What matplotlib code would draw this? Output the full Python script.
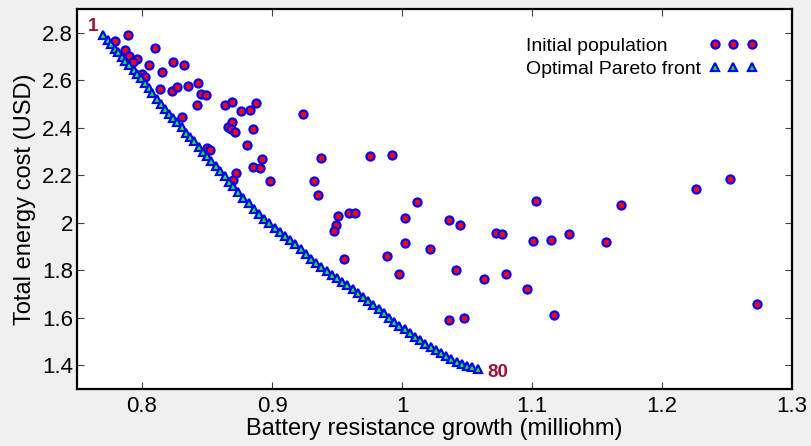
import matplotlib
matplotlib.use("Agg")
import matplotlib.pyplot as plt

plt.rcParams['font.family'] = ['Liberation Sans', 'DejaVu Sans']

# initial population (battery resistance growth, total energy cost)
pop_x = [0.789, 0.7795, 0.787, 0.810, 0.790, 0.796, 0.793, 0.805, 0.8235, 0.832,
         0.815, 0.800, 0.8025, 0.814, 0.823, 0.827, 0.835, 0.843, 0.845, 0.849,
         0.842, 0.8308, 0.8636, 0.869, 0.876, 0.8833, 0.8877, 0.866, 0.869, 0.8687,
         0.8718, 0.885, 0.8808, 0.8923, 0.885, 0.891, 0.850, 0.8525, 0.8725, 0.8697,
         0.8987, 0.9238, 0.9377, 0.9756, 0.9923, 0.932, 0.9354, 0.9508, 0.949, 0.9474,
         0.959, 0.9636, 1.0115, 1.002, 1.002, 0.9556, 0.9885, 0.9974, 1.0218, 1.0362,
         1.0448, 1.0415, 1.0362, 1.0474, 1.0633, 1.0725, 1.077, 1.0797, 1.0964, 1.1033,
         1.1008, 1.1148, 1.1166, 1.1282, 1.1566, 1.1685, 1.2262, 1.2525, 1.2733]
pop_y = [2.790, 2.765, 2.727, 2.734, 2.702, 2.691, 2.677, 2.663, 2.677, 2.664,
         2.636, 2.628, 2.614, 2.564, 2.555, 2.573, 2.576, 2.590, 2.543, 2.537,
         2.496, 2.445, 2.495, 2.508, 2.471, 2.475, 2.503, 2.405, 2.426, 2.394,
         2.383, 2.394, 2.328, 2.270, 2.236, 2.232, 2.314, 2.305, 2.211, 2.180,
         2.176, 2.457, 2.274, 2.281, 2.287, 2.175, 2.117, 2.030, 1.991, 1.966,
         2.041, 2.041, 2.089, 2.020, 1.914, 1.847, 1.861, 1.784, 1.889, 2.011,
         1.991, 1.802, 1.590, 1.597, 1.763, 1.956, 1.952, 1.784, 1.720, 2.092,
         1.924, 1.927, 1.612, 1.952, 1.921, 2.075, 2.141, 2.186, 1.656]

# optimal Pareto front, 80 solutions
front_x = [0.770, 0.7735, 0.776, 0.779, 0.7815, 0.7845, 0.787, 0.790, 0.7935, 0.796,
           0.799, 0.802, 0.805, 0.808, 0.8115, 0.8145, 0.818, 0.821, 0.824, 0.827,
           0.8305, 0.834, 0.837, 0.840, 0.8435, 0.847, 0.850, 0.853, 0.857, 0.860,
           0.8635, 0.867, 0.870, 0.874, 0.878, 0.882, 0.886, 0.890, 0.894, 0.898,
           0.902, 0.906, 0.910, 0.914, 0.918, 0.922, 0.926, 0.930, 0.934, 0.938,
           0.942, 0.946, 0.950, 0.954, 0.958, 0.962, 0.966, 0.970, 0.974, 0.978,
           0.982, 0.986, 0.990, 0.994, 0.998, 1.002, 1.006, 1.010, 1.014, 1.018,
           1.022, 1.026, 1.030, 1.034, 1.038, 1.042, 1.046, 1.050, 1.054, 1.0585]
front_y = [2.790, 2.768, 2.752, 2.733, 2.717, 2.699, 2.683, 2.665, 2.644, 2.628,
           2.610, 2.590, 2.569, 2.548, 2.523, 2.502, 2.478, 2.460, 2.442, 2.424,
           2.403, 2.380, 2.361, 2.343, 2.321, 2.299, 2.281, 2.262, 2.237, 2.218,
           2.195, 2.172, 2.153, 2.128, 2.1035, 2.0815, 2.0595, 2.0375, 2.0155, 1.997,
           1.980, 1.962, 1.945, 1.928, 1.910, 1.890, 1.870, 1.849, 1.829, 1.814,
           1.798, 1.782, 1.767, 1.752, 1.737, 1.721, 1.706, 1.689, 1.671, 1.654,
           1.636, 1.618, 1.601, 1.583, 1.566, 1.551, 1.536, 1.521, 1.506, 1.491,
           1.476, 1.463, 1.451, 1.438, 1.426, 1.414, 1.4035, 1.3975, 1.392, 1.385]

xticks = [0.8, 0.9, 1.0, 1.1, 1.2, 1.3]
xtick_labels = ['0.8', '0.9', '1', '1.1', '1.2', '1.3']
yticks = [1.4, 1.6, 1.8, 2.0, 2.2, 2.4, 2.6, 2.8]
ytick_labels = ['1.4', '1.6', '1.8', '2', '2.2', '2.4', '2.6', '2.8']

fig = plt.figure(figsize=(8.12, 4.46), dpi=100, facecolor='#f0f0f0')
ax = fig.add_axes([77 / 812, 57 / 446, 715 / 812, 380 / 446])

ax.plot(pop_x, pop_y, 'o', ms=5.8, mfc='red', mec='blue', mew=1.6,
        label='Initial population')
ax.plot(front_x, front_y, '^', ms=6.2, mfc='lime', mec='blue', mew=1.6,
        label='Optimal Pareto front')

lab_color = '#9c1436'
ax.annotate('1', (front_x[0], front_y[0]), xytext=(-7, 6), textcoords='offset points',
            ha='center', va='center', fontsize=13.5, fontweight='bold',
            family='Liberation Sans', color=lab_color)
ax.annotate('80', (front_x[-1], front_y[-1]), xytext=(7, -3), textcoords='offset points',
            ha='left', va='center', fontsize=13.5, fontweight='bold',
            family='Liberation Sans', color=lab_color)

ax.set_xlim(0.75, 1.3)
ax.set_ylim(1.3, 2.9)
ax.set_xticks(xticks)
ax.set_xticklabels(xtick_labels)
ax.set_yticks(yticks)
ax.set_yticklabels(ytick_labels)
ax.tick_params(direction='in', length=5, width=0.8, color='#404040',
               top=True, right=True, labelsize=16)
ax.tick_params(axis='x', pad=5)
ax.tick_params(axis='y', pad=3)
for s in ax.spines.values():
    s.set_linewidth(1.6)

ax.set_xlabel('Battery resistance growth (milliohm)', fontsize=17, labelpad=1)
ax.set_ylabel('Total energy cost (USD)', fontsize=17, labelpad=4)

leg = ax.legend(loc='upper right', bbox_to_anchor=(0.952, 0.926), frameon=False,
                markerfirst=False, numpoints=3, fontsize=14, handlelength=2.5,
                handletextpad=0.4, labelspacing=0.3, borderpad=0, borderaxespad=0)

# keep legend labels left aligned while markers stay in one column
fig.canvas.draw()
r = fig.canvas.get_renderer()
widths = [t.get_window_extent(r).width for t in leg.get_texts()]
items = leg._legend_handle_box.get_children()[0].get_children()
for box, w in zip(items, widths):
    box.sep += (max(widths) - w) * 72 / fig.dpi

fig.savefig('out.png', dpi=100, facecolor=fig.get_facecolor())
